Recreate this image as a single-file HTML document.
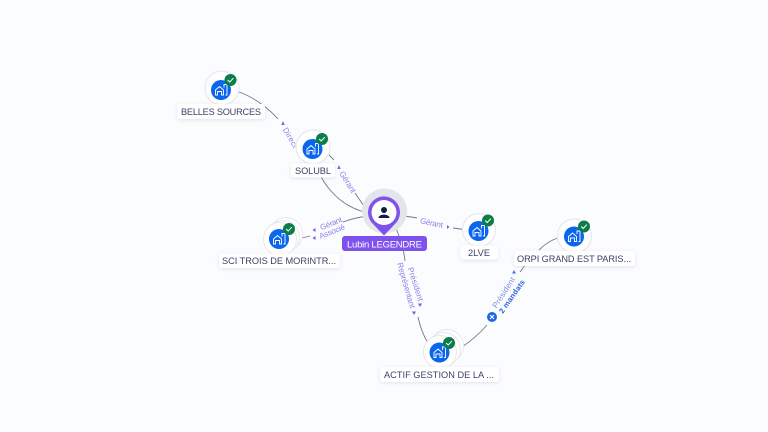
<!DOCTYPE html>
<html><head><meta charset="utf-8"><style>
html,body{margin:0;padding:0;background:#fbfcfe}
svg{display:block}
text{font-family:"Liberation Sans",sans-serif}
.n{font-size:9.2px;fill:#3b4268;text-anchor:middle}
.l{font-size:8px;fill:#8d7fe6;text-anchor:middle}
.c{fill:none;stroke:#73778f;stroke-width:.9}
</style></head><body>
<svg width="768" height="432" viewBox="0 0 768 432" xmlns="http://www.w3.org/2000/svg">
<defs>
<filter id="s" x="-30%" y="-50%" width="160%" height="200%"><feDropShadow dx="0" dy="1" stdDeviation="1.8" flood-color="#8a90b0" flood-opacity=".25"/></filter>
<g id="ic">
<circle r="10" fill="#0b66ee"/>
<path d="M-5.500 5V0L-1.500-3.500 2.500 0V5H0.500V1.500H-3.500V5Z M3-2.500V-5.500H6V5H4.500" fill="none" stroke="#fff" stroke-width=".9"/>
</g>
<g id="ck">
<circle r="6" fill="#0b7d48"/>
<path d="M-2.800 0L-.8 2 2.800-1.800" fill="none" stroke="#fff" stroke-width="1"/>
</g>
</defs>
<rect width="768" height="432" fill="#fbfcfe"/>

<path class="c" d="M239 92C256 98 270 110 278 119"/>
<path class="c" d="M329 155L334 160"/>
<path class="c" d="M355 193C359 199 363 205 368 211"/>
<path class="c" d="M320 175C330 194 346 208 368 213"/>
<path class="c" d="M302 238L310 236"/>
<path class="c" d="M343 222C351 219 360 217 368 216"/>
<path class="c" d="M400 216C406 216 412 217 417 218"/>
<path class="c" d="M453 228L464 229.500"/>
<path class="c" d="M396 228C400 238 404 250 405 261"/>
<path class="c" d="M418 317C420 326 423 335 428 343"/>
<path class="c" d="M462 347C471 341 480 333 487 325"/>
<path class="c" d="M520 272L526 264"/>
<path class="c" d="M539 250C545 244 551 240 558 238"/>

<path d="M283 121l-1.700 4h3.400z" fill="#7d5be6"/>
<path d="M339 165l-1.700 4h3.400z" fill="#7d5be6"/>
<path d="M312.500 230l3-2v4z" fill="#7d5be6"/>
<path d="M312.500 238l3-2v4z" fill="#7d5be6"/>
<path d="M449.500 227l-2.500-2v4z" fill="#7d5be6"/>
<path d="M420 307l-2-3.500h4z" fill="#7d5be6"/>
<path d="M414 315l-2-3.500h4z" fill="#7d5be6"/>
<path d="M514 270l-1.800 3.500h3.600z" fill="#2d6de8"/>

<text class="l" text-anchor="start" style="text-anchor:start" transform="translate(282.500 129.500) rotate(60)" textLength="22">Direct</text>
<text class="l" transform="translate(345.500 183.500) rotate(58)" textLength="24">Gérant</text>
<text class="l" transform="translate(332 226) rotate(-22)" textLength="23">Gérant</text>
<text class="l" transform="translate(333 234) rotate(-22)" textLength="27">Associé</text>
<text class="l" transform="translate(431 225.500) rotate(12)" textLength="23">Gérant</text>
<text class="l" transform="translate(413 285) rotate(72)" textLength="35">Président</text>
<text class="l" transform="translate(403.600 286) rotate(74)" textLength="47">Représentant</text>
<text class="l" transform="translate(506 294) rotate(-57)" textLength="35" style="fill:#7f8ce8">Président</text>
<text class="l" transform="translate(514 298) rotate(-55)" textLength="39" style="fill:#2d62d8;font-weight:bold;font-size:7.5px">2 mandats</text>
<circle cx="492" cy="317" r="5" fill="#1f65e6"/>
<path d="M490 315l4 4M494 315l-4 4" stroke="#fff" stroke-width="1.100"/>

<!-- BELLES -->
<circle cx="222" cy="88" r="17" fill="#fff" stroke="#e7e8ee" stroke-width="1.200"/>
<use href="#ic" x="221" y="90"/><use href="#ck" x="230.500" y="80"/>
<rect x="177" y="104" width="88" height="15" rx="3" fill="#fff" filter="url(#s)"/>
<text class="n" x="221" y="115" textLength="80">BELLES SOURCES</text>

<!-- SOLUBL -->
<circle cx="313" cy="147" r="17" fill="#fff" stroke="#e7e8ee" stroke-width="1.200"/>
<use href="#ic" x="312.500" y="149"/><use href="#ck" x="322" y="139"/>
<rect x="291" y="163.500" width="44" height="14" rx="3" fill="#fff" filter="url(#s)"/>
<text class="n" x="313" y="174" textLength="36">SOLUBL</text>

<!-- SCI -->
<circle cx="286" cy="234" r="16.500" fill="#fff" stroke="#e7e8ee"/>
<circle cx="283" cy="237" r="16.500" fill="#fff" stroke="#e7e8ee"/>
<circle cx="280" cy="239" r="16.500" fill="#fff" stroke="#e7e8ee"/>
<use href="#ic" x="279" y="239"/><use href="#ck" x="289" y="229"/>
<rect x="219" y="253.500" width="121" height="14.500" rx="3" fill="#fff" filter="url(#s)"/>
<text class="n" x="279" y="264" textLength="114">SCI TROIS DE MORINTR...</text>

<!-- 2LVE -->
<circle cx="479" cy="230" r="16.500" fill="#fff" stroke="#e7e8ee" stroke-width="1.200"/>
<use href="#ic" x="478.500" y="231"/><use href="#ck" x="488" y="220.500"/>
<rect x="460" y="245.500" width="38" height="14" rx="3" fill="#fff" filter="url(#s)"/>
<text class="n" x="479" y="256" textLength="22">2LVE</text>

<!-- ORPI -->
<circle cx="574.500" cy="236" r="17" fill="#fff" stroke="#e7e8ee" stroke-width="1.200"/>
<use href="#ic" x="574" y="236.500"/><use href="#ck" x="584" y="226.500"/>
<rect x="514" y="251" width="121" height="15" rx="3" fill="#fff" filter="url(#s)"/>
<text class="n" x="574" y="262" textLength="114">ORPI GRAND EST PARIS...</text>

<!-- ACTIF -->
<circle cx="447" cy="346" r="16.500" fill="#fff" stroke="#e7e8ee"/>
<circle cx="444" cy="349" r="16.500" fill="#fff" stroke="#e7e8ee"/>
<circle cx="440" cy="352" r="16.500" fill="#fff" stroke="#e7e8ee"/>
<use href="#ic" x="439.500" y="352.500"/><use href="#ck" x="449" y="343"/>
<rect x="380" y="367" width="119" height="15" rx="3" fill="#fff" filter="url(#s)"/>
<text class="n" x="439" y="378" textLength="110">ACTIF GESTION DE LA ...</text>

<!-- Person -->
<circle cx="384.500" cy="211" r="22.500" fill="#e4e5ea"/>
<path d="M384 235.500L373.500 224.500A16 16 0 1 1 394.500 224.500Z" fill="#7f52ee"/>
<circle cx="384" cy="212.500" r="12.500" fill="#fff"/>
<circle cx="384" cy="210" r="3" fill="#0d1f48"/>
<path d="M378.500 218C378.500 213.500 389.500 213.500 389.500 218Z" fill="#0d1f48"/>
<rect x="342" y="236" width="85" height="15" rx="3" fill="#7f52ee"/>
<text x="384.500" y="247.500" text-anchor="middle" font-size="9.500" fill="#fff" textLength="75">Lubin LEGENDRE</text>
</svg>
</body></html>
